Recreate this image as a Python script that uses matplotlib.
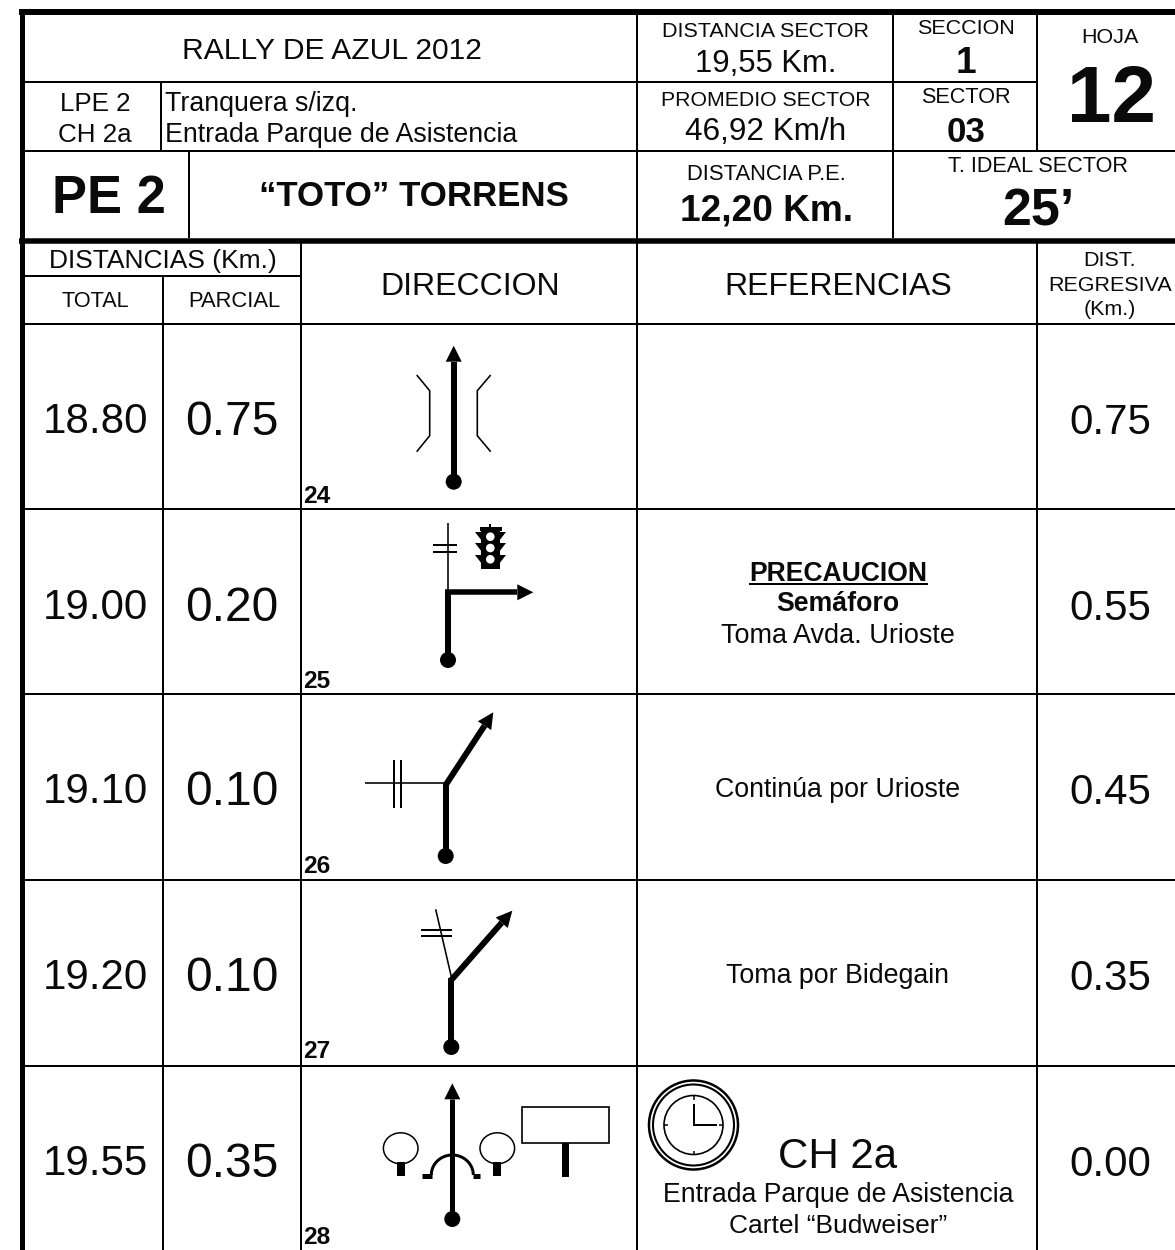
import matplotlib
matplotlib.use("Agg")
import matplotlib.pyplot as plt
from matplotlib.patches import Polygon, Circle, Ellipse, Rectangle
import numpy as np

plt.rcParams['font.family'] = ['Liberation Sans', 'DejaVu Sans']

# Values of the road book rows
totals = ["18.80", "19.00", "19.10", "19.20", "19.55"]
parciales = ["0.75", "0.20", "0.10", "0.10", "0.35"]
regresivas = ["0.75", "0.55", "0.45", "0.35", "0.00"]
numeros = ["24", "25", "26", "27", "28"]
referencias_simples = {2: "Continúa por Urioste", 3: "Toma por Bidegain"}

# Row layout in pixels
row_lines = [324, 509, 694, 880, 1066]
row_base = [434, 620, 804, 990, 1176]
num_base = [503, 688, 873, 1058, 1244]

fig = plt.figure(figsize=(11.75, 12.5), dpi=100)
ax = fig.add_axes([0, 0, 1, 1])
ax.set_xlim(0, 1175)
ax.set_ylim(1250, 0)
ax.axis("off")


def txt(x, y, s, px, bold=False, ha="center"):
    ax.text(x, y, s, fontsize=px * 0.72, fontweight="bold" if bold else "normal",
            ha=ha, va="baseline", color="#0a0a0a")


def line(xs, ys, w=1.6, cap="butt"):
    ax.plot(xs, ys, color="black", lw=w * 0.72, solid_capstyle=cap, solid_joinstyle="miter")


def road(x0, y0, x1, y1, w=6):
    # thick road line ending in an arrow head
    a = np.array([x0, y0], float)
    b = np.array([x1, y1], float)
    d = (b - a) / np.hypot(*(b - a))
    n = np.array([-d[1], d[0]])
    base = b - d * 16
    line([a[0], base[0]], [a[1], base[1]], w)
    ax.add_patch(Polygon([b, base + n * 8, base - n * 8], color="black", lw=0))


def dot(x, y, r=8):
    ax.add_patch(Circle((x, y), r, color="black", lw=0))


# Table lines
line([19, 1175], [12, 12], 6)
line([21.5, 21.5], [9, 1250], 5)
line([19, 1175], [240.5, 240.5], 5.5)
line([22, 1037], [82, 82], 2)
line([22, 1175], [151, 151], 2)
line([22, 301], [276, 276], 2)
for y in row_lines:
    line([22, 1175], [y, y], 2)
line([636.5, 636.5], [15, 1250], 2)
line([893, 893], [15, 238], 2)
line([1037, 1037], [15, 151], 2)
line([1037, 1037], [243, 1250], 2)
line([160.5, 160.5], [82, 151], 2)
line([189, 189], [151, 238], 2)
line([162.5, 162.5], [276, 1250], 2)
line([301, 301], [243, 1250], 2)

# Header block
txt(332, 59, "RALLY DE AZUL 2012", 30)
txt(95, 111, "LPE 2", 26)
txt(95, 142, "CH 2a", 26)
txt(165, 111, "Tranquera s/izq.", 26.7, ha="left")
txt(165, 142, "Entrada Parque de Asistencia", 26.7, ha="left")
txt(109, 213, "PE 2", 52.5, True)
txt(414, 206, "“TOTO” TORRENS", 34.9, True)
txt(766, 37, "DISTANCIA SECTOR", 21.5)
txt(766, 72, "19,55 Km.", 31)
txt(766, 106, "PROMEDIO SECTOR", 21.3)
txt(766, 140, "46,92 Km/h", 31.5)
txt(766, 180, "DISTANCIA P.E.", 22)
txt(766, 220, "12,20 Km.", 37, True)
txt(966, 34, "SECCION", 21.5)
txt(966, 73, "1", 37, True)
txt(966, 103, "SECTOR", 21.7)
txt(966, 142, "03", 35, True)
txt(1110, 43, "HOJA", 21.5)
txt(1111, 122, "12", 80, True)
txt(1038, 172, "T. IDEAL SECTOR", 21.6)
txt(1038, 226, "25’", 52, True)

# Column headers
txt(163, 268, "DISTANCIAS (Km.)", 26.4)
txt(95, 307, "TOTAL", 21.6)
txt(234, 307, "PARCIAL", 22)
txt(470, 295, "DIRECCION", 32)
txt(838, 295, "REFERENCIAS", 32)
txt(1110, 266, "DIST.", 21.5)
txt(1110, 291, "REGRESIVA", 21.5)
txt(1110, 315, "(Km.)", 21.5)

# Row values
for i in range(5):
    txt(95, row_base[i] - 1, totals[i], 42)
    txt(232, row_base[i] + 1, parciales[i], 48)
    txt(1110, row_base[i], regresivas[i], 42)
    txt(303, num_base[i], numeros[i], 24.5, True, ha="left")

# References
txt(838, 581, "PRECAUCION", 26.5, True)
line([749, 928], [584.3, 584.3], 2)
txt(838, 611, "Semáforo", 26.7, True)
txt(838, 643, "Toma Avda. Urioste", 27)
for i, s in referencias_simples.items():
    txt(838, row_base[i] - 7, s, 26.8)
txt(838, 1168, "CH 2a", 42)
txt(838, 1202, "Entrada Parque de Asistencia", 26.6)
txt(838, 1233, "Cartel “Budweiser”", 26.4)

# Icon 24
road(453.7, 481.7, 453.7, 345.7)
dot(453.7, 481.7)
line([416.7, 429.7, 429.7, 416.7], [375, 390.7, 435.7, 451.7])
line([490.7, 477.3, 477.3, 490.7], [375, 390.7, 435.7, 451.7])

# Icon 25
line([448, 448], [660, 592.3], 6)
road(445, 592.3, 533.3, 592.3, 5.5)
dot(448, 660)
line([448, 448], [523, 592])
line([432.7, 457.3], [545, 545], 2)
line([432.7, 457.3], [551.7, 551.7], 2)
# traffic light
ax.add_patch(Rectangle((481, 530), 19, 39, color="black", lw=0))
ax.add_patch(Rectangle((480, 526.7), 21.7, 4.5, color="black", lw=0))
ax.add_patch(Rectangle((489.3, 524), 2, 3, color="black", lw=0))
for y in [531.7, 543.3, 555]:
    ax.add_patch(Polygon([(475, y), (482, y), (482, y + 9)], color="black", lw=0))
    ax.add_patch(Polygon([(506, y), (499, y), (499, y + 9)], color="black", lw=0))
for y in [536.7, 548, 559.3]:
    ax.add_patch(Circle((490.3, y), 4.3, color="white", lw=0))

# Icon 26
line([445.7, 445.7], [856, 783.3], 6)
road(445.7, 785, 493.3, 712.3)
dot(445.7, 856)
line([365, 445.7], [783.3, 783.3])
line([394.3, 394.3], [760, 807.7], 2)
line([401, 401], [760, 807.7], 2)

# Icon 27
line([451.3, 451.3], [1047, 978.3], 6)
road(451.3, 980, 512.3, 910.7)
dot(451.3, 1047)
line([451.3, 435.7], [976.7, 909.3])
line([420.7, 451.7], [930, 930], 2)
line([420.7, 451.7], [935.7, 935.7], 2)

# Icon 28
road(452.3, 1219, 452.3, 1083.3, 5)
dot(452.3, 1219)
for cx, tx in [(400.7, 397), (497.3, 492.7)]:
    ax.add_patch(Ellipse((cx, 1148.3), 34.6, 31, fill=False, ec="black", lw=1.1))
    ax.add_patch(Rectangle((tx, 1161.7), 8, 14.3, color="black", lw=0))
ax.add_patch(Rectangle((522, 1107.3), 87, 35.4, fill=False, ec="black", lw=1.2))
ax.add_patch(Rectangle((561.7, 1142.7), 7.6, 34, color="black", lw=0))
t = np.linspace(np.pi, 2 * np.pi, 40)
line(452.3 + 21 * np.cos(t), 1175 + 20 * np.sin(t), 3)
line([421.7, 432], [1175.5, 1175.5], 5)
line([472.5, 480], [1175.5, 1175.5], 5)

# Clock
for r, w in [(44.5, 1.8), (40.5, 1.5), (29.5, 1.2)]:
    ax.add_patch(Circle((693.5, 1125), r, fill=False, ec="black", lw=w))
line([693.5, 693.5, 717], [1104, 1125, 1125], 2)
line([693.5, 693.5], [1095.5, 1099.5], 1.5)
line([693.5, 693.5], [1150.5, 1154.5], 1.5)
line([664, 668], [1125, 1125], 1.5)
line([719, 723], [1125, 1125], 1.5)

fig.savefig("out.png", dpi=100)
